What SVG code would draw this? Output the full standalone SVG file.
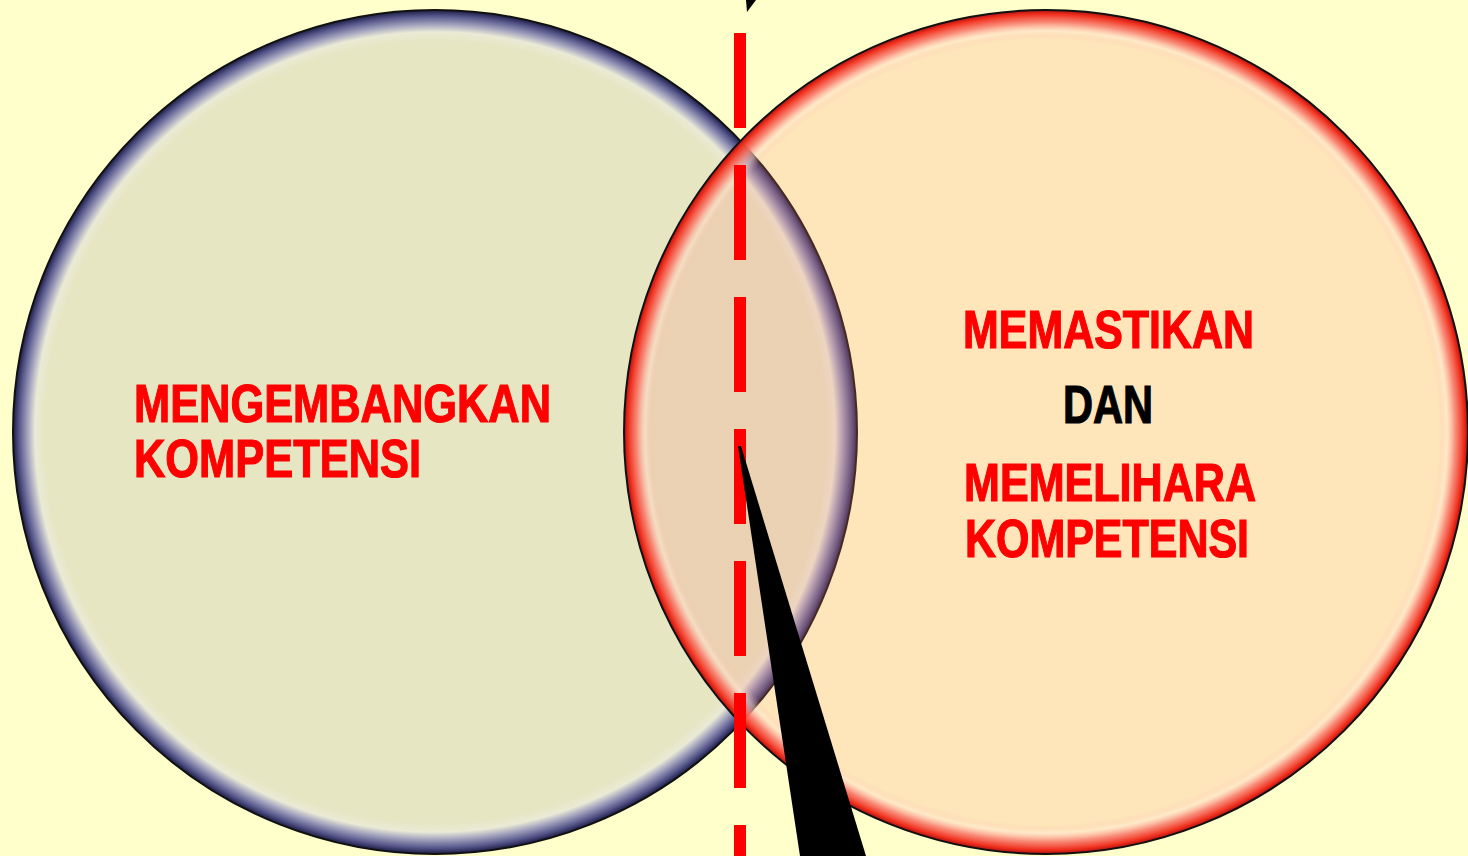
<svg xmlns="http://www.w3.org/2000/svg" width="1468" height="856" viewBox="0 0 1468 856">
  <defs>
    <radialGradient id="gLeft" cx="50%" cy="50%" r="50%">
      <stop offset="0" stop-color="#E6E6C3"/>
      <stop offset="0.925" stop-color="#E6E6C3"/>
      <stop offset="0.948" stop-color="#EAEAD6"/>
      <stop offset="0.965" stop-color="#A6A6C0"/>
      <stop offset="0.986" stop-color="#55558A"/>
      <stop offset="1" stop-color="#1C1C44"/>
    </radialGradient>
    <radialGradient id="gRight" cx="50%" cy="50%" r="50%">
      <stop offset="0" stop-color="#FA897A" stop-opacity="0.22"/>
      <stop offset="0.93" stop-color="#FA897A" stop-opacity="0.22"/>
      <stop offset="0.95" stop-color="#FFD8C4" stop-opacity="0.55"/>
      <stop offset="0.97" stop-color="#F88070" stop-opacity="0.9"/>
      <stop offset="0.99" stop-color="#F0301E" stop-opacity="1"/>
      <stop offset="1" stop-color="#B01010" stop-opacity="1"/>
    </radialGradient>
    <style>
      .lbl { font-family: "Liberation Sans Narrow", "Liberation Sans", Arial, sans-serif; font-weight: bold; font-size: 54px; stroke-width: 1.2; }
      .red { fill: #FF0000; stroke: #FF0000; }
      .blk { fill: #000000; stroke: #000000; }
      .ring { stroke: #111111; stroke-width: 2; }
    </style>
  </defs>
  <rect x="0" y="0" width="1468" height="856" fill="#FFFFCC"/>

  <g id="node-mengembangkan">
    <circle class="ring" cx="435" cy="432" r="422" fill="url(#gLeft)"/>
    <text class="lbl red" x="134" y="422" textLength="417" lengthAdjust="spacingAndGlyphs">MENGEMBANGKAN</text>
    <text class="lbl red" x="134" y="477" textLength="287" lengthAdjust="spacingAndGlyphs">KOMPETENSI</text>
  </g>

  <g id="node-memastikan">
    <circle class="ring" cx="1046" cy="432" r="422" fill="url(#gRight)"/>
    <text class="lbl red" x="963" y="348" textLength="291" lengthAdjust="spacingAndGlyphs">MEMASTIKAN</text>
    <text class="lbl blk" x="1063" y="423" textLength="90" lengthAdjust="spacingAndGlyphs">DAN</text>
    <text class="lbl red" x="964" y="501" textLength="292" lengthAdjust="spacingAndGlyphs">MEMELIHARA</text>
    <text class="lbl red" x="965" y="557" textLength="284" lengthAdjust="spacingAndGlyphs">KOMPETENSI</text>
  </g>

  <g id="connectors">
    <line x1="740" y1="33" x2="740" y2="860" stroke="#FF0000" stroke-width="12" stroke-dasharray="95 37"/>
    <polygon points="738,446 741,446 866,856 800,856" fill="#000000"/>
    <polygon points="746,0 756,0 747,12" fill="#000000"/>
  </g>
</svg>
